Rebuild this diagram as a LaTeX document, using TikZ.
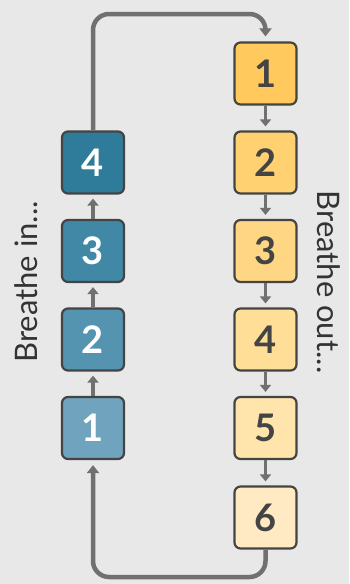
\documentclass[tikz,border=0pt]{standalone}
\usepackage{fontspec}
\setmainfont{Lato}
\usetikzlibrary{arrows.meta}
\definecolor{bg}{RGB}{232,232,232}
\definecolor{edge}{RGB}{68,68,68}
\definecolor{conn}{RGB}{112,112,112}
\definecolor{numdark}{RGB}{68,68,68}
\definecolor{lA}{RGB}{112,163,190}
\definecolor{lB}{RGB}{84,148,176}
\definecolor{lC}{RGB}{64,136,165}
\definecolor{lD}{RGB}{46,124,154}
\definecolor{rA}{RGB}{255,201,94}
\definecolor{rB}{RGB}{255,209,112}
\definecolor{rC}{RGB}{255,215,132}
\definecolor{rD}{RGB}{255,222,152}
\definecolor{rE}{RGB}{255,228,172}
\definecolor{rF}{RGB}{255,234,196}
\tikzset{
  stepbox/.style={draw=edge, line width=2.2pt, rounded corners=6pt, minimum width=62pt, minimum height=62pt, inner sep=0pt, font=\fontsize{38}{42}\selectfont\bfseries},
  inbox/.style={stepbox, text=white},
  outbox/.style={stepbox, text=numdark},
  link/.style={draw=conn, line width=3.5pt, -{Triangle[width=11pt,length=7pt]}, shorten >=4pt},
  loop/.style={draw=conn, line width=4.5pt, rounded corners=16pt, -{Triangle[width=12pt,length=8pt]}, shorten >=5pt},
  side/.style={font=\fontsize{31}{34}\selectfont, text=black!80}
}
\begin{document}
\begin{tikzpicture}[x=1pt,y=-1pt]
\fill[bg] (0,0) rectangle (349,584);
\useasboundingbox (0,0) rectangle (349,584);
% right column
\node[outbox, fill=rA] (r1) at (265.5,73.5) {1};
\node[outbox, fill=rB] (r2) at (265.5,162.5) {2};
\node[outbox, fill=rC] (r3) at (265.5,251) {3};
\node[outbox, fill=rD] (r4) at (265.5,339.5) {4};
\node[outbox, fill=rE] (r5) at (265.5,428) {5};
\node[outbox, fill=rF] (r6) at (265.5,517.5) {6};
% left column
\node[inbox, fill=lA] (l1) at (93,428) {1};
\node[inbox, fill=lB] (l2) at (93,339.5) {2};
\node[inbox, fill=lC] (l3) at (93,251) {3};
\node[inbox, fill=lD] (l4) at (93,162.5) {4};
% links
\draw[link] (r1) -- (r2);
\draw[link] (r2) -- (r3);
\draw[link] (r3) -- (r4);
\draw[link] (r4) -- (r5);
\draw[link] (r5) -- (r6);
\draw[link] (l1) -- (l2);
\draw[link] (l2) -- (l3);
\draw[link] (l3) -- (l4);
% loops
\coordinate (tl) at (93,14);
\coordinate (tr) at (265.5,14);
\coordinate (bl) at (93,577);
\coordinate (br) at (265.5,577);
\draw[loop] (l4.north) -- (tl) -- (tr) -- (r1.north);
\draw[loop] (r6.south) -- (br) -- (bl) -- (l1.south);
% side texts
\node[side, rotate=90] (tin) at (26,282) {Breathe in...};
\node[side, rotate=-90] (tout) at (329,282) {Breathe out...};
\end{tikzpicture}
\end{document}
